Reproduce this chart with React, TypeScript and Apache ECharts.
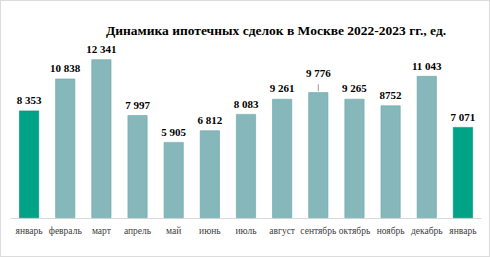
import React, { useEffect, useRef } from "react";
import * as echarts from "echarts";

const TITLE = "Динамика ипотечных сделок в Москве 2022-2023 гг., ед.";
const categories = ["январь", "февраль", "март", "апрель", "май", "июнь", "июль", "август", "сентябрь", "октябрь", "ноябрь", "декабрь", "январь"];
const values = [8353, 10838, 12341, 7997, 5905, 6812, 8083, 9261, 9776, 9265, 8752, 11043, 7071];
const valueLabels = ["8 353", "10 838", "12 341", "7 997", "5 905", "6 812", "8 083", "9 261", "9 776", "9 265", "8752", "11 043", "7 071"];
const highlighted = [true, false, false, false, false, false, false, false, false, false, false, false, true];
const leaderIndex = 8;

export default function App() {
  const ref = useRef<HTMLDivElement>(null);
  useEffect(() => {
    document.body.style.margin = "0";
    const chart = echarts.init(ref.current!, null, { renderer: "svg" });
    const serif = "Liberation Serif, Times New Roman, serif";
    chart.setOption({
      animation: false,
      title: {
        text: TITLE,
        left: 270,
        textAlign: "center",
        top: 17,
        textStyle: { fontFamily: serif, fontSize: 13.5, fontWeight: "bold", color: "#000" },
      },
      grid: { left: 10, right: 8, top: 37, bottom: 38 },
      xAxis: {
        type: "category",
        data: categories,
        axisLine: { lineStyle: { color: "#d9d9d9" } },
        axisTick: { show: false },
        axisLabel: { fontFamily: serif, fontSize: 9.5, color: "#404040", margin: 8, interval: 0 },
      },
      yAxis: { type: "value", min: 0, max: 14000, show: false, splitLine: { show: false } },
      series: [
        {
          type: "bar",
          barCategoryGap: "45%",
          data: values.map((v, i) => ({
            value: v,
            itemStyle: highlighted[i]
              ? { color: "#00A385", borderColor: "#008f74", borderWidth: 0.6 }
              : { color: "#86B7BA", borderColor: "#6aa7aa", borderWidth: 0.6 },
            label: i === leaderIndex ? { distance: 14 } : undefined,
          })),
          label: {
            show: true,
            position: "top",
            distance: 5,
            fontFamily: serif,
            fontSize: 11,
            fontWeight: "bold",
            color: "#000",
            formatter: (p: any) => valueLabels[p.dataIndex],
          },
        },
        {
          type: "custom",
          silent: true,
          data: [[leaderIndex, values[leaderIndex]]],
          renderItem: (params: any, api: any) => {
            const p = api.coord([api.value(0), api.value(1)]);
            return {
              type: "line",
              shape: { x1: p[0], y1: p[1] - 1, x2: p[0], y2: p[1] - 8 },
              style: { stroke: "#7f7f7f", lineWidth: 0.8 },
            };
          },
        },
      ],
    });
    return () => chart.dispose();
  }, []);
  return (
    <div
      ref={ref}
      style={{
        position: "fixed",
        left: 0,
        top: 0,
        width: 490,
        height: 257,
        boxSizing: "border-box",
        border: "1px solid #dcdcdc",
        background: "#fff",
      }}
    />
  );
}
